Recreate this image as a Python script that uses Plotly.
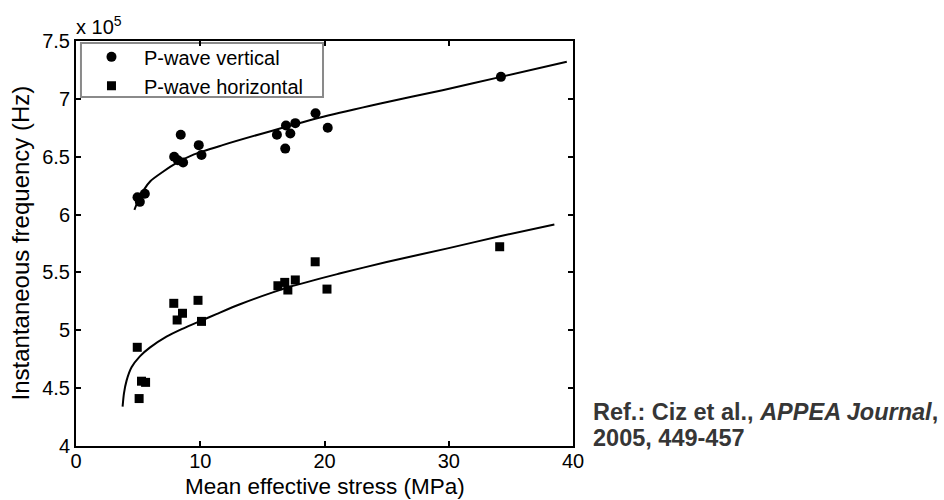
import plotly.graph_objects as go

# Measured points: mean effective stress (MPa) vs instantaneous frequency (x 10^5 Hz)
vertical_stress = [4.95, 5.14, 5.54, 7.9, 8.2, 8.43, 8.62, 9.88, 10.1,
                   16.17, 16.84, 16.9, 17.25, 17.65, 19.28, 20.26, 34.2]
vertical_freq = [6.15, 6.11, 6.18, 6.50, 6.47, 6.69, 6.45, 6.60, 6.515,
                 6.69, 6.57, 6.77, 6.70, 6.79, 6.875, 6.75, 7.19]

horizontal_stress = [4.93, 5.27, 5.6, 5.08, 7.87, 8.57, 8.14, 9.82, 10.1,
                     16.25, 16.8, 17.05, 17.65, 19.25, 20.2, 34.1]
horizontal_freq = [4.853, 4.56, 4.55, 4.41, 5.233, 5.147, 5.089, 5.259, 5.077,
                   5.385, 5.414, 5.348, 5.435, 5.592, 5.356, 5.722]

# Trend curves through each data set
vertical_fit_stress = [4.7, 5.0, 5.5, 6.0, 7.0, 8.0, 9.5, 11.8, 15.8, 19.9,
                       24.5, 29.5, 34.2, 39.5]
vertical_fit_freq = [6.04, 6.12, 6.22, 6.29, 6.37, 6.44, 6.52, 6.60, 6.725,
                     6.845, 6.96, 7.075, 7.19, 7.32]

horizontal_fit_stress = [3.75, 3.86, 4.07, 4.47, 5.14, 5.94, 7.28, 8.62, 10.0,
                         11.3, 13.2, 17.2, 21.2, 25.0, 30.0, 34.2, 38.5]
horizontal_fit_freq = [4.34, 4.455, 4.565, 4.68, 4.775, 4.85, 4.945, 5.015, 5.08,
                       5.14, 5.225, 5.375, 5.49, 5.59, 5.71, 5.815, 5.915]

x_ticks = [0, 10, 20, 30, 40]
y_ticks = [4, 4.5, 5, 5.5, 6, 6.5, 7, 7.5]

FONT = "Liberation Sans, Arial, Helvetica, sans-serif"

fig = go.Figure()

fig.add_trace(go.Scatter(
    x=vertical_fit_stress, y=vertical_fit_freq, mode="lines",
    line=dict(color="black", width=2, shape="spline", smoothing=0.7),
    showlegend=False, hoverinfo="skip"))
fig.add_trace(go.Scatter(
    x=horizontal_fit_stress, y=horizontal_fit_freq, mode="lines",
    line=dict(color="black", width=2, shape="spline", smoothing=0.7),
    showlegend=False, hoverinfo="skip"))

fig.add_trace(go.Scatter(
    x=vertical_stress, y=vertical_freq, mode="markers",
    name="P-wave vertical",
    marker=dict(symbol="circle", size=10, color="black")))
fig.add_trace(go.Scatter(
    x=horizontal_stress, y=horizontal_freq, mode="markers",
    name="P-wave horizontal",
    marker=dict(symbol="square", size=9, color="black")))

axis_common = dict(
    showgrid=False, zeroline=False,
    showline=True, linecolor="black", linewidth=2, mirror="ticks",
    ticks="inside", ticklen=5, tickwidth=1.5, tickcolor="black",
    tickfont=dict(family=FONT, size=20, color="black"),
)

fig.update_xaxes(range=[0, 40], tickvals=x_ticks, ticklabelstandoff=-4,
                 **axis_common)
fig.update_yaxes(range=[4, 7.5], tickvals=y_ticks, **axis_common)

# Axis titles
fig.add_annotation(
    x=0.5, y=0, xref="paper", yref="paper", xanchor="center", yanchor="middle",
    yshift=-40, borderpad=0, text="Mean effective stress (MPa)", showarrow=False,
    font=dict(family=FONT, size=22.5, color="black"))
fig.add_annotation(
    x=0, y=0.5, xref="paper", yref="paper", xanchor="center", yanchor="middle",
    xshift=-56, textangle=-90, text="Instantaneous frequency (Hz)",
    showarrow=False, font=dict(family=FONT, size=24, color="black"))

# Axis multiplier
fig.add_annotation(
    x=0, y=1, xref="paper", yref="paper", xanchor="left", yanchor="middle",
    text="x 10<sup>5</sup>", showarrow=False, yshift=16, xshift=-2,
    font=dict(family=FONT, size=20, color="black"))

# Citation
REF_COLOR = "#363636"
fig.add_annotation(
    x=1, y=0, xref="paper", yref="paper", xanchor="left", yanchor="middle",
    xshift=18, yshift=34, showarrow=False,
    text="<b>Ref.: Ciz et al., <i>APPEA Journal</i>,</b>",
    font=dict(family=FONT, size=23.5, color=REF_COLOR))
fig.add_annotation(
    x=1, y=0, xref="paper", yref="paper", xanchor="left", yanchor="middle",
    xshift=18, yshift=8, showarrow=False,
    text="<b>2005, 449-457</b>",
    font=dict(family=FONT, size=23.5, color=REF_COLOR))

# Legend frame
fig.add_shape(
    type="rect", xref="paper", yref="paper",
    x0=0.01, x1=0.497, y0=0.862, y1=0.995,
    line=dict(color="#8a8a8a", width=2), fillcolor="white", layer="below")

fig.update_layout(
    width=944, height=500,
    margin=dict(l=76, r=371, t=41, b=54),
    paper_bgcolor="white", plot_bgcolor="white",
    font=dict(family=FONT, color="black"),
    showlegend=True,
    legend=dict(
        x=0.006, y=1.009, xanchor="left", yanchor="top",
        bgcolor="rgba(0,0,0,0)", borderwidth=0,
        font=dict(family=FONT, size=20, color="black"),
        itemwidth=55, tracegroupgap=0),
)

fig.write_html("out.html")
